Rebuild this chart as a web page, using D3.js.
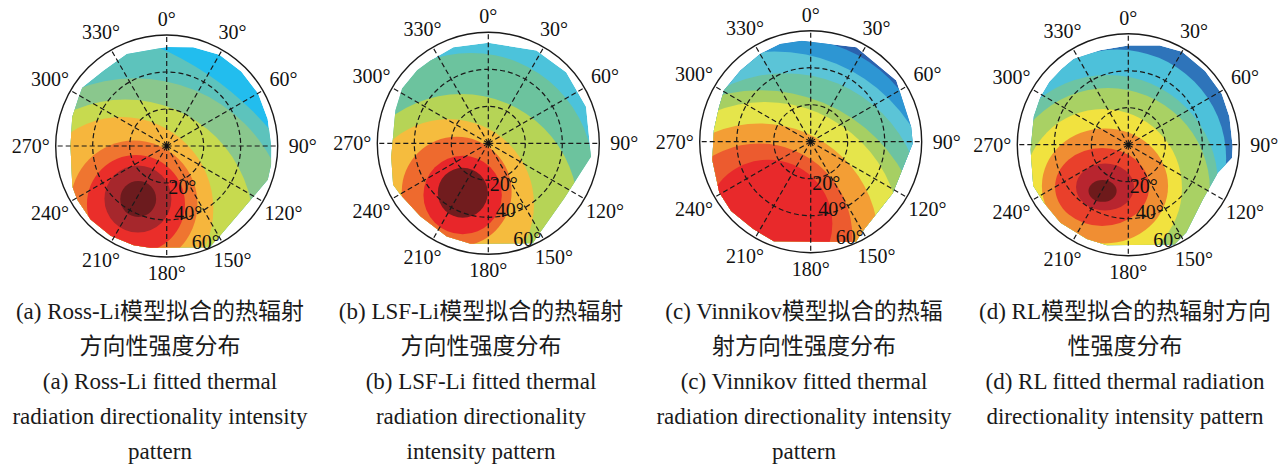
<!DOCTYPE html>
<html><head><meta charset="utf-8">
<script src="https://cdn.jsdelivr.net/npm/d3@7"></script>
<style>body{margin:0;background:#fff}svg{display:block}</style>
</head><body>
<svg id="chart" width="1288" height="466"></svg>
<script>
// ---------- shared axis data ----------
const angleTicks = [0, 30, 60, 90, 120, 150, 180, 210, 240, 270, 300, 330];
const zenithTicks = [20, 40, 60];

// ---------- panel (a) Ross-Li ----------
const aColors  = ["#22BDEE","#5DC3BC","#8AC78D","#C7DA4F","#F6B63D","#EF7530","#EA2E2A","#A6272C","#6C1B1E"];
const aContAz  = [215.4, 200.0, 206.8, 215.7, 209.4, 207.9, 208.5, 208.3];
const aContZen = [119.1, 50.6, 49.6, 41.8, 36.0, 35.5, 32.6, 32.5];
const aContRx  = [163.6, 84.2, 69.4, 49.6, 34.3, 26.5, 18.1, 9.7];
const aContRy  = [163.6, 84.2, 69.4, 49.6, 34.3, 26.5, 18.1, 9.7];
const aCovAz   = [0, 15, 30, 45, 60, 75, 90, 100, 108.5, 129, 149.5, 157, 189.3, 198.4, 212, 226, 239, 246.8, 270, 287, 299, 304.6, 320, 336.6];
const aCovZen  = [53.5, 55.3, 57, 57, 57, 56.5, 56.5, 57.3, 57.6, 53.4, 56.5, 59.5, 55.7, 56.6, 57.2, 57.2, 56.4, 55.5, 52, 53.4, 54.4, 55.5, 53.1, 54.2];
const aCaption = ["(a) Ross-Li模型拟合的热辐射", "方向性强度分布", "(a) Ross-Li fitted thermal", "radiation directionality intensity", "pattern"];

// ---------- panel (b) LSF-Li ----------
const bColors  = ["#4CC3DB","#6CC39E","#B6D456","#F5BC3E","#EE6A2E","#E8262A","#711C1E"];
const bContAz  = [208.5, 201.8, 213.0, 213.1, 206.4, 207.3];
const bContZen = [19.6, 39.4, 39.3, 31.3, 31.2, 30.1];
const bContRx  = [66.1, 63.2, 46.1, 29.7, 21.2, 13.5];
const bContRy  = [66.1, 63.2, 46.1, 29.7, 21.2, 13.5];
const bCovAz   = [0, 27.4, 47.6, 69.5, 97.4, 125.7, 153, 156, 190, 204, 223, 239.7, 246.5, 262, 289.6, 302.4, 315.7, 325, 340];
const bCovZen  = [54.3, 56.5, 57, 56.4, 56, 50.7, 57.3, 59.2, 55.2, 55.2, 53.9, 55, 56.1, 53, 53.3, 55.2, 55.1, 54.6, 55.2];
const bCaption = ["(b) LSF-Li模型拟合的热辐射", "方向性强度分布", "(b) LSF-Li fitted thermal", "radiation directionality", "intensity pattern"];

// ---------- panel (c) Vinnikov ----------
const cColors  = ["#2B62AE","#2D96D3","#5BC4D7","#6DC3A1","#A6CF63","#E5E54B","#F39E35","#EC5B2F","#E8292B"];
const cContAz  = [207.7, 206.8, 200.3, 204.0, 205.4, 206.9, 208.5, 207.3];
const cContZen = [19.7, 43.6, 39.5, 67.0, 57.5, 61.0, 58.5, 49.9];
const cContRx  = [73.0, 87.7, 74.1, 89.0, 73.4, 64.3, 50.4, 34.6];
const cContRy  = [73.0, 87.7, 74.1, 89.0, 73.4, 64.3, 50.4, 34.6];
const cCovAz   = [355, 25.8, 54.4, 81.5, 91, 122, 151, 155.7, 200.3, 213.5, 229, 241, 259.5, 276.9, 290.8, 300.7, 315.4, 330, 342.6];
const cCovZen  = [54.8, 56.7, 56.9, 54.9, 55.2, 52.4, 56.4, 59.5, 57.4, 56.5, 57, 56.5, 54.1, 52.7, 53, 54.5, 54.1, 54.7, 55.3];
const cCaption = ["(c) Vinnikov模型拟合的热辐", "射方向性强度分布", "(c) Vinnikov fitted thermal", "radiation directionality intensity", "pattern"];

// ---------- panel (d) RL ----------
const dColors  = ["#2E74BA","#4DC1DA","#6DC4A3","#A9D164","#F1E23F","#F08E33","#E9402B","#B8252F","#6E1A1B"];
const dContAz  = [218.8, 206.8, 204.2, 210.3, 209.5, 211.8, 208.8, 209.1];
const dContZen = [9.57, 24.4, 26.8, 27.1, 25.6, 26.9, 26.1, 28.6];
const dContRx  = [58.9, 59.5, 55.1, 42.7, 34.1, 25.4, 15.7, 7.6];
const dContRy  = [58.9, 59.5, 55.1, 42.7, 31.1, 21.1, 12.7, 5.9];
const dCovAz   = [0, 17.6, 30.1, 46.2, 61.4, 74.4, 90.9, 97.3, 107.5, 126.3, 146.6, 155.2, 192, 203.7, 221, 235.6, 246.6, 267, 286.6, 298.2, 308.5, 318.9, 327.5, 343.4];
const dCovZen  = [53.6, 56.2, 58, 57.5, 57.5, 56.7, 56.4, 56.5, 50.7, 50, 56.9, 59.5, 55.5, 55.7, 55.9, 55.4, 56, 52.9, 53.3, 54, 54.5, 54.5, 55, 53.3];
const dCaption = ["(d) RL模型拟合的热辐射方向", "性强度分布", "(d) RL fitted thermal radiation", "directionality intensity pattern"];

// ---------- layout ----------
const R = 111;
const rScale = d3.scaleLinear().domain([0, 60]).range([0, R]);
const panels = [
  {id:"a", cx:166.7, cy:146.0, capX:160, colors:aColors, az:aContAz, zen:aContZen, rx:aContRx, ry:aContRy, covAz:aCovAz, covZen:aCovZen, caption:aCaption},
  {id:"b", cx:488.3, cy:143.3, capX:481, colors:bColors, az:bContAz, zen:bContZen, rx:bContRx, ry:bContRy, covAz:bCovAz, covZen:bCovZen, caption:bCaption},
  {id:"c", cx:810.7, cy:141.7, capX:804, colors:cColors, az:cContAz, zen:cContZen, rx:cContRx, ry:cContRy, covAz:cCovAz, covZen:cCovZen, caption:cCaption},
  {id:"d", cx:1128.3, cy:144.7, capX:1125, colors:dColors, az:dContAz, zen:dContZen, rx:dContRx, ry:dContRy, covAz:dCovAz, covZen:dCovZen, caption:dCaption}
];
const captionBaselines = [319, 354, 389, 424, 459];
const zenLabelOffset = {20:[15.5, 41], 40:[21.5, 67], 60:[39, 95.5]};
const serif = "'Liberation Serif','Times New Roman',serif";
const mixed = "'Liberation Serif','Noto Sans CJK SC',serif";

function toXY(az, zen) {
  const t = az * Math.PI / 180, r = rScale(zen);
  return [r * Math.sin(t), -r * Math.cos(t)];
}
function labelPos(az) {
  const t = az * Math.PI / 180;
  const d = R + 16 + 9 * Math.abs(Math.sin(t));
  return [d * Math.sin(t), -d * Math.cos(t)];
}

const svg = d3.select("#chart");
svg.append("rect").attr("width", 1288).attr("height", 466).attr("fill", "#fff");

panels.forEach(p => {
  const g = svg.append("g").attr("transform", `translate(${p.cx},${p.cy})`);
  const cov = p.covAz.map((a, i) => toXY(a, p.covZen[i]));
  const covPath = d3.line()(cov) + "Z";
  const clipId = "clip-" + p.id;
  g.append("clipPath").attr("id", clipId).append("path").attr("d", covPath);

  const fills = g.append("g").attr("clip-path", `url(#${clipId})`);
  fills.append("path").attr("d", covPath).attr("fill", p.colors[0]);
  fills.selectAll("ellipse.band").data(p.az).join("ellipse")
    .attr("class", "band")
    .attr("cx", (a, i) => toXY(a, p.zen[i])[0])
    .attr("cy", (a, i) => toXY(a, p.zen[i])[1])
    .attr("rx", (a, i) => rScale(p.rx[i]))
    .attr("ry", (a, i) => rScale(p.ry[i]))
    .attr("fill", (a, i) => p.colors[i + 1]);

  // grid
  const grid = g.append("g").attr("fill", "none").attr("stroke", "#1a1a1a").attr("stroke-width", 1.2);
  grid.selectAll("circle.zen").data(zenithTicks.slice(0, -1)).join("circle")
    .attr("class", "zen").attr("r", d => rScale(d)).attr("stroke-dasharray", "5,3");
  grid.selectAll("line.spoke").data(angleTicks).join("line")
    .attr("class", "spoke")
    .attr("x1", 0).attr("y1", 0)
    .attr("x2", d => toXY(d, 60)[0]).attr("y2", d => toXY(d, 60)[1])
    .attr("stroke-dasharray", "5,3");
  grid.append("circle").attr("r", rScale(60)).attr("stroke-width", 1.4);
  g.append("circle").attr("r", 2).attr("fill", "#111");

  // angle labels
  g.selectAll("text.ang").data(angleTicks).join("text")
    .attr("class", "ang")
    .attr("x", d => labelPos(d)[0])
    .attr("y", d => labelPos(d)[1])
    .attr("text-anchor", "middle").attr("dominant-baseline", "central")
    .attr("font-family", serif).attr("font-size", 20).attr("fill", "#111")
    .text(d => d + "°");

  // zenith labels
  g.selectAll("text.zl").data(zenithTicks).join("text")
    .attr("class", "zl")
    .attr("x", d => zenLabelOffset[d][0]).attr("y", d => zenLabelOffset[d][1])
    .attr("text-anchor", "middle").attr("dominant-baseline", "central")
    .attr("font-family", serif).attr("font-size", 20).attr("fill", "#111")
    .text(d => d + "°");

  // captions
  svg.append("g").selectAll("text").data(p.caption).join("text")
    .attr("x", p.capX).attr("y", (d, i) => captionBaselines[i])
    .attr("text-anchor", "middle")
    .attr("font-family", mixed).attr("font-size", 23).attr("fill", "#1a1a1a")
    .text(d => d);
});
</script>
</body></html>
